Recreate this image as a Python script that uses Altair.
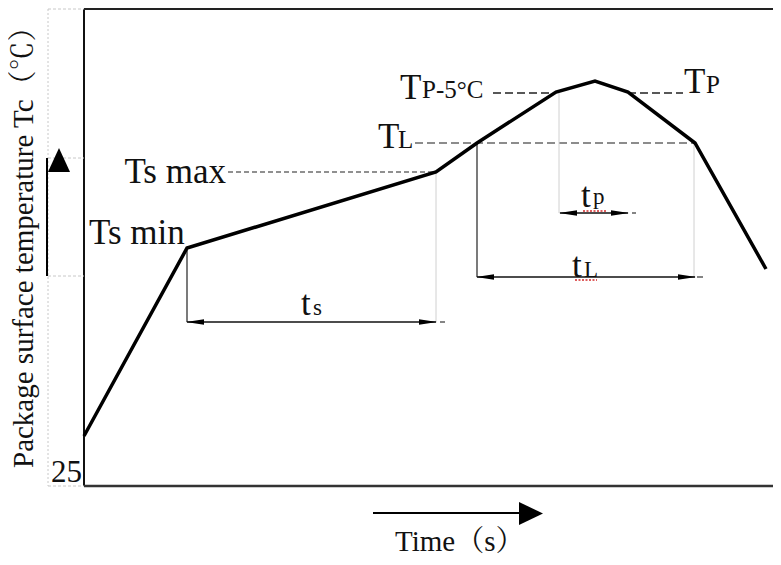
import altair as alt
import pandas as pd

# ---- values (abstract time / temperature units) ----
profile_time = [0, 103, 352, 393, 472, 511, 544, 611, 682]
profile_temp = [50, 238, 314, 343, 394, 405, 394, 343, 217]

# horizontal dashed reference levels: (x start, x end, level)
tsmax_dash = [(144, 352, 314)]
tl_dash = [(331, 611, 343)]
tp_dash = [(409, 472, 393), (544, 599, 393)]

# vertical drop lines: (x, y top, y bottom)
drop_dark = [(103, 238, 164), (393, 343, 209)]
drop_light = [(352, 314, 164), (610, 343, 209), (475, 393, 273)]

# dimension arrows: (x start, x end, level)
dims = [(103, 352, 164), (393, 611, 209), (476, 544, 273)]
dim_tails = [(356, 361, 164), (613, 619, 209), (548, 552, 273)]

# text labels
big_labels = [("Ts max", 142, 303, "right"), ("Ts min", 5, 242, "left"),
              ("T", 294, 338, "left"), ("T", 316, 387, "left"), ("T", 600, 393, "left")]
small_caps = [("L", 314, 338), ("P-5°C", 338, 388), ("P", 622, 393)]
t_labels = [("t", 217, 171), ("t", 488, 209), ("t", 497, 279)]
t_subs = [("s", 229, 171), ("L", 500, 209), ("p", 509, 282)]
squiggles = [(491, 513, 206), (499, 523, 275)]
y_title = "Package surface temperature Tc（℃）"
x_title = "Time（s）"
start_label = "25"

W, H = 689, 477
FONT = "Liberation Serif, Noto Serif CJK SC, Noto Sans CJK SC, serif"
xs = alt.Scale(domain=[0, W], nice=False, zero=False)
ys = alt.Scale(domain=[0, H], nice=False, zero=False)


def X(f="x"):
    return alt.X(f"{f}:Q", scale=xs, axis=None)


def Y(f="y"):
    return alt.Y(f"{f}:Q", scale=ys, axis=None)


def hrules(rows, **kw):
    df = pd.DataFrame(rows, columns=["x", "x2", "y"])
    return alt.Chart(df).mark_rule(**kw).encode(x=X(), x2="x2:Q", y=Y())


def vrules(rows, **kw):
    df = pd.DataFrame(rows, columns=["x", "y", "y2"])
    return alt.Chart(df).mark_rule(**kw).encode(x=X(), y=Y(), y2="y2:Q")


def points(rows, shape, size, **kw):
    df = pd.DataFrame(rows, columns=["x", "y"])
    return alt.Chart(df).mark_point(shape=shape, size=size, filled=True, opacity=1,
                                    color="black", strokeWidth=0, **kw).encode(x=X(), y=Y())


def texts(rows, size, align="left", baseline="alphabetic", **kw):
    df = pd.DataFrame(rows, columns=["t", "x", "y"])
    return alt.Chart(df).mark_text(align=align, baseline=baseline, font=FONT,
                                   fontSize=size, color="#111", **kw).encode(
        x=X(), y=Y(), text="t:N")


layers = []

# frame (left, top, bottom)
layers.append(vrules([(0, H, 0)], color="#111", strokeWidth=2))
layers.append(hrules([(0, W, H)], color="#222", strokeWidth=2))
layers.append(hrules([(0, W, 0)], color="#333", strokeWidth=2.5))

# left light dotted guides
layers.append(vrules([(-36, H, 0)], color="#c8c8c8", strokeWidth=1, strokeDash=[2, 2]))
layers.append(hrules([(-36, 0, 328), (-36, 0, 210), (-36, 0, H), (-36, 0, 0)],
                     color="#c8c8c8", strokeWidth=1, strokeDash=[3, 2]))

# up arrow on the left
layers.append(vrules([(-37, 328, 210)], color="black", strokeWidth=2))
layers.append(points([(-25, 326)], "M0,-1L0.92,1L-0.92,1Z", 576))

# time arrow
layers.append(hrules([(289, 436, -27)], color="black", strokeWidth=2))
layers.append(points([(447, -27.5)], "M1,0L-1,-0.96L-1,0.96Z", 576))

# dashed reference lines
layers.append(hrules(tsmax_dash, color="#222", strokeWidth=1.2, strokeDash=[5, 3]))
layers.append(hrules(tl_dash, color="#8c8c8c", strokeWidth=2, strokeDash=[8, 4]))
layers.append(hrules(tp_dash, color="#222", strokeWidth=1.5, strokeDash=[8, 4]))

# drop lines
layers.append(vrules(drop_dark, color="#222", strokeWidth=1.2))
layers.append(vrules(drop_light, color="#d0d0d0", strokeWidth=1))

# dimension arrows
layers.append(hrules(dims, color="#111", strokeWidth=1.3))
layers.append(hrules(dim_tails, color="#333", strokeWidth=1.2))
left_heads = [(a + 8, y) for a, b, y in dims]
right_heads = [(b - 8, y) for a, b, y in dims]
layers.append(points(left_heads, "M-1,0L1,-0.3L1,0.3Z", 324))
layers.append(points(right_heads, "M1,0L-1,-0.3L-1,0.3Z", 324))

# spell-check squiggles
layers.append(hrules(squiggles, color="#d42a2a", strokeWidth=1.5, strokeDash=[2, 1.5]))

# profile curve
prof = pd.DataFrame({"t": profile_time, "T": profile_temp})
layers.append(alt.Chart(prof).mark_line(color="black", strokeWidth=3.5, strokeJoin="miter").encode(
    x=X("t"), y=Y("T")))

# labels
lab_r = [(t, x, y) for t, x, y, a in big_labels if a == "right"]
lab_l = [(t, x, y) for t, x, y, a in big_labels if a == "left"]
layers.append(texts(lab_r, 35, "right"))
layers.append(texts(lab_l, 35, "left"))
layers.append(texts(small_caps, 25))
layers.append(texts(t_labels, 35))
layers.append(texts(t_subs, 23))
layers.append(texts([(start_label, -2, 4)], 31, "right"))
layers.append(texts([(x_title, 311, -65)], 29))
layers.append(texts([(y_title, -60, 18)], 29, "left", "middle", angle=270))

chart = alt.layer(*layers).properties(
    width=W, height=H,
    autosize=alt.AutoSizeParams(type="none"),
    padding={"left": 76, "top": 1, "right": 0, "bottom": 71},
).configure_view(strokeWidth=0)

chart.save("out.html", embed_options={"renderer": "svg", "actions": False})
